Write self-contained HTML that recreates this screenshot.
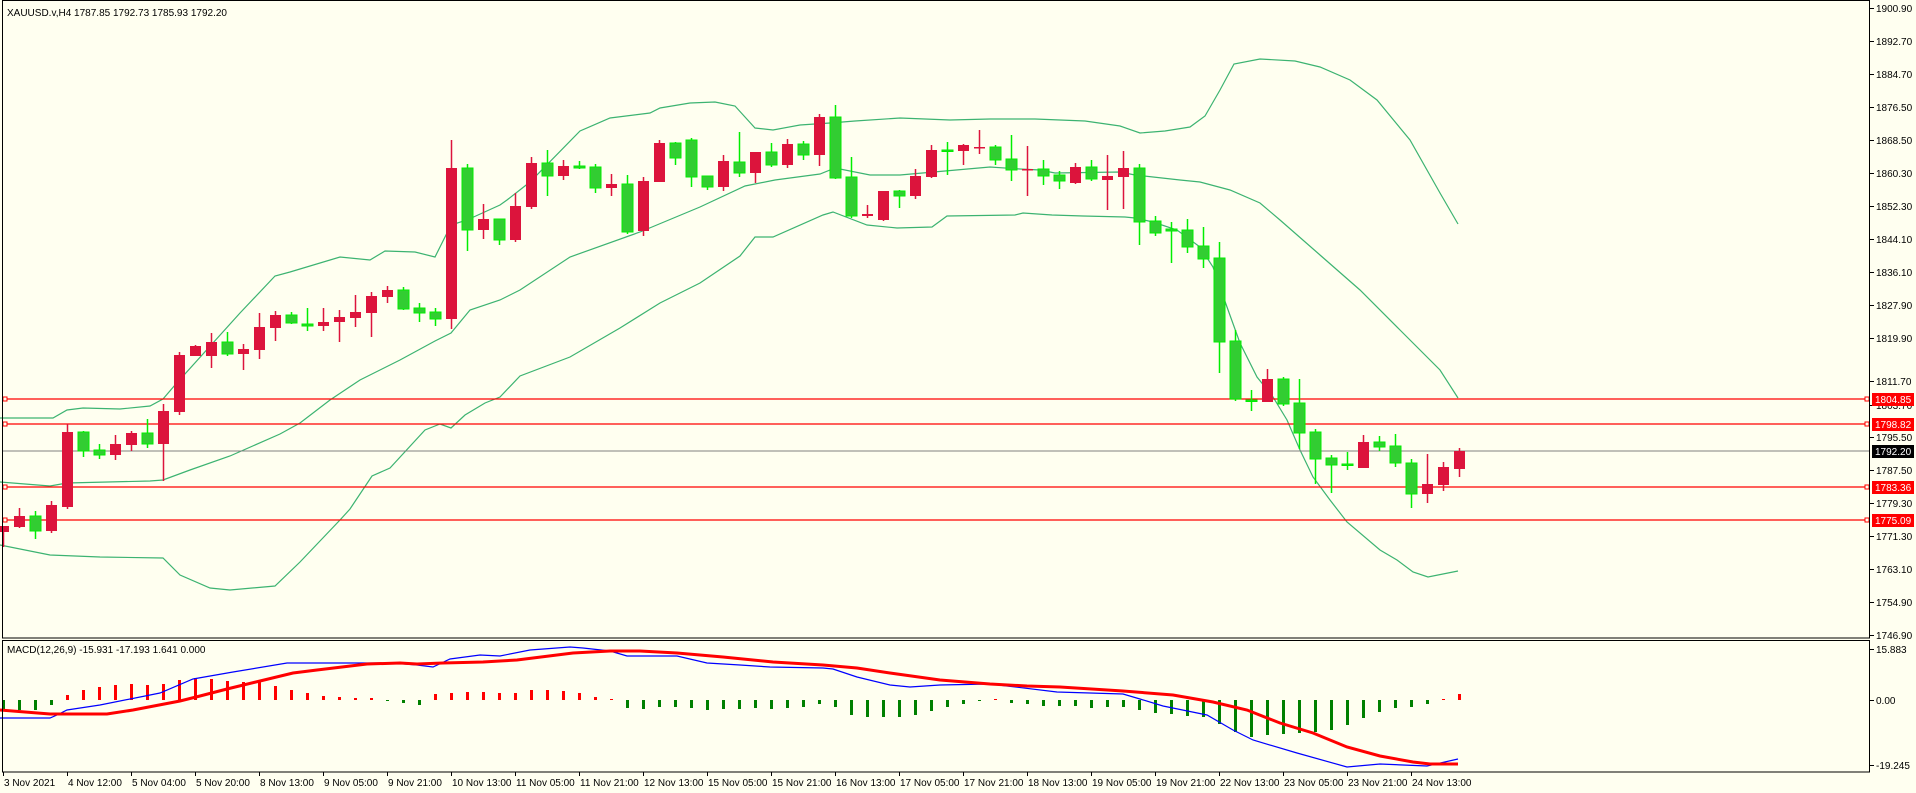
<!DOCTYPE html>
<html><head><meta charset="utf-8"><style>
html,body{margin:0;padding:0;background:#FFFFF0;}
svg{display:block;}
text{font-family:"Liberation Sans",sans-serif;font-size:10px;fill:#000;}
</style></head><body>
<svg id="s" width="1916" height="793" xmlns="http://www.w3.org/2000/svg">
<rect x="0" y="0" width="1916" height="793" fill="#FFFFF0"/>
<g id="bands" fill="none" stroke="#3CB371" stroke-width="1.2">
<polyline points="0,418 53,418 67,410 83,408 120,409 150,406 163,399 175,385 240,313 275,276 290,272 340,257 370,260 385,251 415,252 435,257 451,225 467,220 500,205 507,200 530,182 580,131 610,118 650,113 660,108 690,103 715,102 735,106 755,128 773,130 800,125 830,123 855,121 900,118 950,120 990,119 1035,119 1085,121 1120,126 1140,133 1165,131 1190,127 1205,116 1220,90 1234,64 1260,59 1295,61 1320,67 1350,80 1377,100 1410,140 1440,193 1458,224"/>
<polyline points="0,482 50,486 67,483 150,481 163,480 190,470 230,456 280,434 300,423 330,400 360,380 400,360 435,341 451,333 470,310 500,300 520,290 570,257 640,232 700,207 745,186 775,180 820,174 835,168 870,175 900,175 990,167 1020,169 1040,170 1055,173 1120,172 1135,175 1180,180 1200,182 1230,190 1260,203 1280,220 1320,255 1360,290 1400,330 1440,370 1458,398"/>
<polyline points="0,545 50,555 100,557 163,558 180,575 210,588 230,590 275,586 300,562 340,520 350,509 372,476 390,468 425,430 440,424 451,428 465,415 485,403 500,397 520,376 570,357 620,328 660,303 700,283 740,256 755,237 773,237 823,215 833,212 867,225 897,228 932,227 947,216 1015,215 1023,213 1052,215 1083,216 1125,217 1135,218 1153,222 1177,230 1200,247 1213,267 1227,307 1240,343 1257,377 1273,397 1287,420 1300,450 1313,477 1330,500 1347,522 1380,550 1397,560 1413,572 1428,577 1458,571"/>
</g>
<g id="hl">
<line x1="2" y1="399" x2="1870" y2="399" stroke="#FF0000" stroke-width="1.3"/>
<line x1="2" y1="424" x2="1870" y2="424" stroke="#FF0000" stroke-width="1.3"/>
<line x1="2" y1="451" x2="1870" y2="451" stroke="#808080" stroke-width="1"/>
<line x1="2" y1="487" x2="1870" y2="487" stroke="#FF0000" stroke-width="1.3"/>
<line x1="2" y1="520" x2="1870" y2="520" stroke="#FF0000" stroke-width="1.3"/>
<g fill="#FFFFF0" stroke="#FF0000">
<rect x="3" y="397" width="4" height="4"/><rect x="3" y="422" width="4" height="4"/><rect x="3" y="485" width="4" height="4"/><rect x="3" y="518" width="4" height="4"/>
<rect x="1865" y="397" width="4" height="4"/><rect x="1865" y="422" width="4" height="4"/><rect x="1865" y="485" width="4" height="4"/><rect x="1865" y="518" width="4" height="4"/>
</g>
</g>
<g id="candles"></g>
<g id="macd"></g>
<rect x="2.5" y="0.5" width="1867" height="637.5" fill="none" stroke="#000"/>
<rect x="2.5" y="640.5" width="1867" height="131.5" fill="none" stroke="#000"/>
<g id="ticks" stroke="#000"></g>
<text x="7" y="16">XAUUSD.v,H4  1787.85 1792.73 1785.93 1792.20</text>
<text x="7" y="653">MACD(12,26,9) -15.931 -17.193 1.641 0.000</text>
<g id="plabels">
<text x="1876" y="12">1900.90</text><text x="1876" y="45">1892.70</text><text x="1876" y="78">1884.70</text><text x="1876" y="111">1876.50</text><text x="1876" y="144">1868.50</text><text x="1876" y="177">1860.30</text><text x="1876" y="210">1852.30</text><text x="1876" y="243">1844.10</text><text x="1876" y="276">1836.10</text><text x="1876" y="309">1827.90</text><text x="1876" y="342">1819.90</text><text x="1876" y="385">1811.70</text><text x="1876" y="409">1803.70</text><text x="1876" y="441">1795.50</text><text x="1876" y="474">1787.50</text><text x="1876" y="507">1779.30</text><text x="1876" y="540">1771.30</text><text x="1876" y="573">1763.10</text><text x="1876" y="606">1754.90</text><text x="1876" y="639">1746.90</text>
<rect x="1872" y="393" width="42" height="13" fill="#FF0000"/><text x="1875" y="403" style="fill:#fff">1804.85</text>
<rect x="1872" y="418" width="42" height="13" fill="#FF0000"/><text x="1875" y="428" style="fill:#fff">1798.82</text>
<rect x="1872" y="445" width="42" height="13" fill="#000"/><text x="1875" y="455" style="fill:#fff">1792.20</text>
<rect x="1872" y="481" width="42" height="13" fill="#FF0000"/><text x="1875" y="491" style="fill:#fff">1783.36</text>
<rect x="1872" y="514" width="42" height="13" fill="#FF0000"/><text x="1875" y="524" style="fill:#fff">1775.09</text>
<text x="1876" y="653">15.883</text><text x="1876" y="704">0.00</text><text x="1876" y="769">-19.245</text>
</g>
<g id="tlabels"></g>
</svg>
<script>
var NS="http://www.w3.org/2000/svg";
function el(p,t,a){var e=document.createElementNS(NS,t);for(var k in a)e.setAttribute(k,a[k]);p.appendChild(e);return e;}
var C=[
['r',526,532,526,547],['r',516,527,508,528],['g',516,531,511,539],['r',505,531,501,533],['r',432,507,424,509],
['g',432,451,431,457],['g',450,455,444,459],['r',444,455,435,460],['r',433,445,431,451],['g',433,444,419,448],
['r',411,444,404,481],['r',355,412,352,415],['r',346,356,345,356],['r',342,356,333,368],['g',342,354,332,356],
['r',349,354,344,370],['r',327,350,313,359],['r',315,328,311,341],['g',315,323,312,324],['g',324,326,308,331],
['r',322,326,308,331],['r',317,322,310,342],['r',312,318,295,327],['r',296,313,292,337],['r',290,297,286,303],
['g',290,309,287,310],['g',308,313,303,322],['g',312,319,308,326],['r',168,319,140,329],['g',168,230,164,251],
['r',219,230,204,239],['g',219,240,219,245],['r',206,240,193,242],['r',163,207,157,209],['g',163,176,150,196],
['r',166,176,160,180],['g',166,168,161,169],['g',167,188,164,193],['r',184,188,174,196],['g',184,232,175,234],
['r',181,231,177,236],['r',143,182,140,182],['g',143,158,142,165],['g',140,177,138,187],['g',176,187,176,190],
['r',161,187,155,191],['g',162,173,132,177],['r',152,173,152,183],['g',152,165,143,167],['r',144,165,139,168],
['g',144,155,141,160],['r',117,155,114,166],['g',117,178,105,179],['g',177,216,157,218],['r',214,216,205,218],
['r',191,220,191,221],['g',191,196,190,208],['r',176,196,169,199],['r',150,177,145,178],['g',150,151,142,175],
['r',145,151,144,165],['r',147,148,130,154],['g',147,160,145,165],['g',159,170,135,181],['r',169,170,146,196],
['g',169,176,160,185],['g',175,181,171,189],['r',167,183,163,184],['g',167,179,160,181],['r',176,180,155,210],
['r',168,177,151,209],['g',168,222,164,245],['g',221,233,216,236],['g',229,231,222,263],['g',230,247,219,253],
['g',246,259,227,268],['g',258,342,242,373],['g',341,399,330,401],['g',400,401,390,411],['r',379,402,369,402],
['g',379,404,377,406],['g',403,433,379,449],['g',432,459,429,484],['g',458,465,455,493],['g',464,465,452,470],
['r',442,468,435,468],['g',442,447,436,451],['g',446,463,434,467],['g',463,494,459,508],['r',484,494,454,503],
['r',467,485,462,491],['r',451,469,448,477]];
var cg=document.getElementById('candles');
C.forEach(function(c,k){var x=3+16*k;var col=c[0]=='r'?'#DC143C':'#32CD32';var wc=c[0]=='r'?'#DC143C':'#00EE00';
el(cg,'line',{x1:x+0.5,x2:x+0.5,y1:c[3],y2:c[4],stroke:wc,'stroke-width':1.5});
var h=Math.max(c[2]-c[1],1.5);
el(cg,'rect',{x:x-5,y:c[1],width:11,height:h,fill:col,stroke:c[0]=='r'?'none':'#00EE00','stroke-width':c[0]=='r'?0:1});});
var H=[-10,-10,-10,-5,5,10,13,15,16,15,16,20,22,21,19,18,18,14,10,7,4,3,2,2,-1,-3,-5,6,7,8,8,
7,7,10,10,9,7,3,1,-8,-9,-7,-7,-8,-10,-9,-9,-8,-9,-8,-7,-4,-7,-15,-17,-17,-17,-15,-11,-7,-4,-1,
1,-3,-4,-6,-6,-6,-8,-7,-7,-10,-13,-14,-16,-17,-24,-32,-37,-35,-34,-33,-32,-30,-25,-18,-12,-8,-7,-4,1,6];
var mg=document.getElementById('macd');
H.forEach(function(h,k){if(k>91)return;var x=3+16*k;var y=h>0?700-h:700;
el(mg,'rect',{x:x-1,y:y,width:3,height:Math.max(Math.abs(h),1),fill:h>0?'#FF0000':'#008000'});});
el(mg,'polyline',{points:"0,718 50,718 57,715 67,710 100,705 160,693 193,679 233,672 287,663 393,663 417,665 433,667 450,659 480,655 500,656 530,650 570,647 583,648 610,651 627,656 677,656 707,663 740,665 770,667 823,668 833,669 857,677 890,685 910,687 940,685 990,684 1007,686 1057,692 1123,694 1140,699 1163,706 1207,715 1233,730 1253,740 1297,753 1347,767 1380,764 1427,766 1458,759",fill:'none',stroke:'#0000FF','stroke-width':1.2});
el(mg,'polyline',{points:"0,710 50,714 107,714 133,710 180,701 200,696 227,689 260,681 293,673 317,670 367,664 400,663 417,664 443,663 483,662 500,661 517,660 573,653 610,651 640,651 677,653 723,657 773,662 823,665 857,668 890,673 940,680 990,684 1027,686 1060,687 1123,691 1173,695 1213,702 1247,710 1280,723 1313,733 1347,747 1380,756 1413,762 1430,764 1458,764",fill:'none',stroke:'#FF0000','stroke-width':3});
var T=["3 Nov 2021","4 Nov 12:00","5 Nov 04:00","5 Nov 20:00","8 Nov 13:00","9 Nov 05:00","9 Nov 21:00","10 Nov 13:00","11 Nov 05:00","11 Nov 21:00","12 Nov 13:00","15 Nov 05:00","15 Nov 21:00","16 Nov 13:00","17 Nov 05:00","17 Nov 21:00","18 Nov 13:00","19 Nov 05:00","19 Nov 21:00","22 Nov 13:00","23 Nov 05:00","23 Nov 21:00","24 Nov 13:00"];
var tk=document.getElementById('ticks'),tl=document.getElementById('tlabels');
T.forEach(function(s,i){var x=3+64*i;el(tk,'line',{x1:x+0.5,x2:x+0.5,y1:772,y2:776});var t=el(tl,'text',{x:x+1,y:786});t.textContent=s;});
var PY=[8,41,74,107,140,173,206,239,272,305,338,381,405,437,470,503,536,569,602,635];
PY.forEach(function(y){el(tk,'line',{x1:1870,x2:1874,y1:y+0.5,y2:y+0.5});});
[649,700,765].forEach(function(y){el(tk,'line',{x1:1870,x2:1874,y1:y+0.5,y2:y+0.5});});
</script>
</body></html>
